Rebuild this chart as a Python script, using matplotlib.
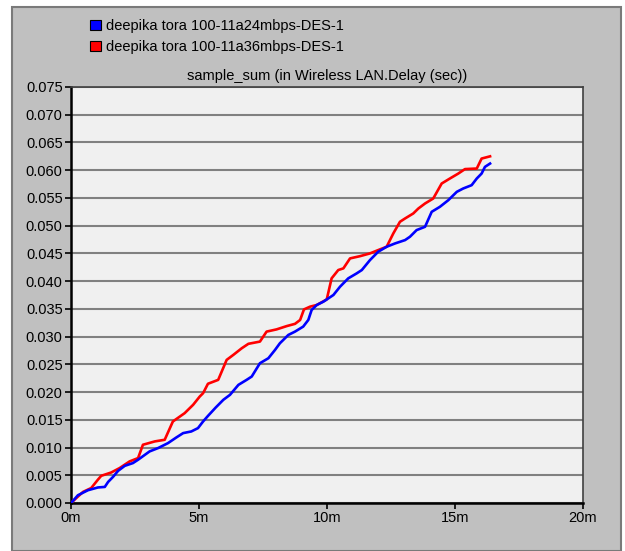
import matplotlib
matplotlib.use("Agg")
import matplotlib.pyplot as plt
from matplotlib.patches import Patch, Rectangle

# time in minutes, delay sum in seconds
t_24 = [0, 0.08, 0.27, 0.66, 1.05, 1.32, 1.45, 1.64, 1.84, 2.10,
        2.42, 2.62, 3.07, 3.40, 3.79, 4.11, 4.38, 4.70, 4.96, 5.16,
        5.35, 5.65, 5.95, 6.21, 6.54, 6.86, 7.06, 7.38, 7.71, 7.97,
        8.16, 8.49, 8.75, 9.07, 9.27, 9.40, 9.60, 9.86, 10.25, 10.51,
        10.83, 11.16, 11.36, 11.68, 12.00, 12.33, 12.66, 13.05, 13.24, 13.50,
        13.83, 14.09, 14.41, 14.74, 15.07, 15.32, 15.65, 15.85, 16.04, 16.17,
        16.37]
d_24 = [0, 0.0004, 0.0014, 0.0023, 0.0028, 0.0029, 0.0038, 0.0047, 0.0058, 0.0067,
        0.0072, 0.0078, 0.0093, 0.0099, 0.0108, 0.0118, 0.0126, 0.0129, 0.0135, 0.0147,
        0.0157, 0.0172, 0.0186, 0.0195, 0.0213, 0.0222, 0.0228, 0.0252, 0.0261, 0.0276,
        0.0288, 0.0303, 0.0309, 0.0318, 0.0330, 0.0348, 0.0357, 0.0363, 0.0375, 0.0390,
        0.0405, 0.0414, 0.0420, 0.0438, 0.0453, 0.0462, 0.0468, 0.0474, 0.0480, 0.0492,
        0.0498, 0.0525, 0.0534, 0.0546, 0.0561, 0.0567, 0.0573, 0.0585, 0.0594, 0.0606,
        0.0612]

t_36 = [0, 0.21, 0.47, 0.79, 1.05, 1.18, 1.57, 1.90, 2.29, 2.62,
        2.81, 3.27, 3.66, 3.98, 4.44, 4.77, 5.03, 5.16, 5.35, 5.75,
        6.08, 6.34, 6.67, 6.93, 7.38, 7.64, 8.03, 8.43, 8.75, 8.95,
        9.10, 9.34, 9.60, 9.99, 10.18, 10.44, 10.64, 10.90, 11.29, 11.68,
        12.00, 12.33, 12.59, 12.85, 13.05, 13.37, 13.57, 13.83, 14.15, 14.48,
        14.80, 15.13, 15.39, 15.85, 16.04, 16.37]
d_36 = [0, 0.0009, 0.0020, 0.0027, 0.0042, 0.0049, 0.0055, 0.0063, 0.0075, 0.0081,
        0.0105, 0.0111, 0.0114, 0.0147, 0.0162, 0.0177, 0.0192, 0.0198, 0.0215, 0.0222,
        0.0258, 0.0267, 0.0279, 0.0287, 0.0291, 0.0309, 0.0313, 0.0319, 0.0323, 0.0330,
        0.0349, 0.0354, 0.0357, 0.0367, 0.0405, 0.0420, 0.0423, 0.0441, 0.0445, 0.0450,
        0.0456, 0.0462, 0.0486, 0.0507, 0.0513, 0.0522, 0.0531, 0.0540, 0.0549, 0.0576,
        0.0585, 0.0594, 0.0602, 0.0603, 0.0621, 0.0625]

labels = ["deepika tora 100-11a24mbps-DES-1", "deepika tora 100-11a36mbps-DES-1"]
title = "sample_sum (in Wireless LAN.Delay (sec))"
x_ticks = [0, 5, 10, 15, 20]
x_labels = ["0m", "5m", "10m", "15m", "20m"]
y_ticks = [i * 0.005 for i in range(16)]

plt.rcParams["font.family"] = ["Liberation Sans", "DejaVu Sans"]
W, H = 625, 551
fig = plt.figure(figsize=(W / 100, H / 100), dpi=100, facecolor="white")

# gray window panel with border
panel = Rectangle((12 / W, 0), (621 - 12) / W, (H - 7) / H, transform=fig.transFigure,
                  facecolor="#c0c0c0", edgecolor="#7a7a7a", linewidth=1.5, zorder=-10)
fig.patches.append(panel)

ax = fig.add_axes([71 / W, (H - 503) / H, 512 / W, 416 / H])
ax.set_facecolor("#f0f0f0")
ax.plot(t_36, d_36, color="#ff0000", lw=1.9, zorder=3)
ax.plot(t_24, d_24, color="#0000ff", lw=1.9, zorder=4)

ax.set_xlim(0, 20)
ax.set_ylim(0, 0.075)
ax.set_xticks(x_ticks, labels=x_labels)
ax.set_yticks(y_ticks, labels=[f"{v:.3f}" for v in y_ticks])
ax.yaxis.grid(True, color="#808080", lw=1.5)
ax.set_axisbelow(True)
ax.tick_params(direction="out", length=4, width=1.2, labelsize=10.5, colors="black", pad=2)
for side in ["left", "bottom"]:
    ax.spines[side].set_linewidth(1.8)
    ax.spines[side].set_color("black")
for side in ["top", "right"]:
    ax.spines[side].set_linewidth(1.2)
    ax.spines[side].set_color("#404040")
ax.set_title(title, fontsize=10.5, pad=5)

handles = [Patch(facecolor="#0000ff", edgecolor="black", lw=0.8),
           Patch(facecolor="#ff0000", edgecolor="black", lw=0.8)]
fig.legend(handles, labels, loc="upper left", bbox_to_anchor=(83 / W, 1 - 12 / H),
           frameon=False, fontsize=10.5, handlelength=0.7, handleheight=0.7,
           handletextpad=0.4, labelspacing=0.45, borderpad=0)

fig.savefig("out.png", dpi=100, facecolor=fig.get_facecolor())
